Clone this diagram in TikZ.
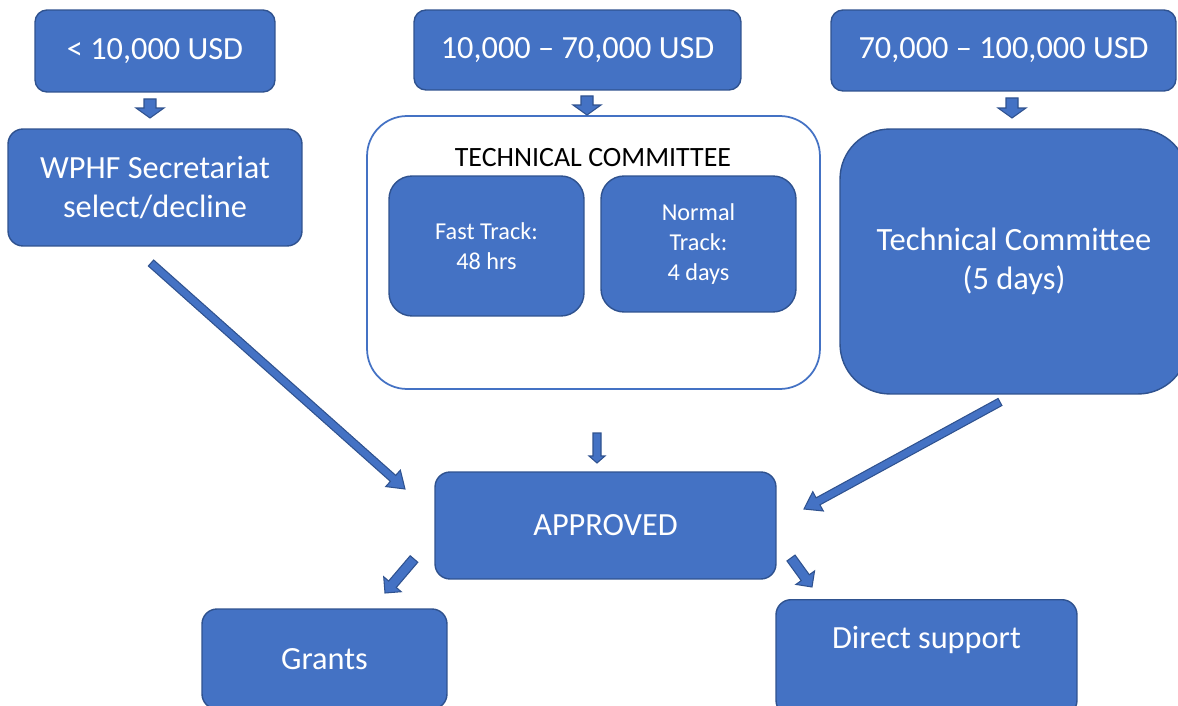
\documentclass[tikz,border=0pt]{standalone}
\usepackage{fontspec}
\setmainfont{Carlito}
\usetikzlibrary{calc}

\definecolor{boxblue}{HTML}{4472C4}
\definecolor{edgeblue}{HTML}{2F528F}

% block arrow: from, to, shaft half width, head half width, head length
\newcommand{\blockarrow}[5]{%
  \coordinate (headbase) at ($(#2)!#5!(#1)$);
  \filldraw[arrowshape] ($(#1)!#3!90:(#2)$) -- ($(headbase)!#3!90:(#2)$)
    -- ($(headbase)!#4!90:(#2)$) -- (#2) -- ($(headbase)!#4!-90:(#2)$)
    -- ($(headbase)!#3!-90:(#2)$) -- ($(#1)!#3!-90:(#2)$) -- cycle;
}

\begin{document}
\begin{tikzpicture}[x=0.02cm, y=-0.02cm,
    box/.style={draw=edgeblue, fill=boxblue, line width=0.8pt, text=white, align=center,
      inner sep=0pt, font=\fontsize{18.4}{22.2}\selectfont},
    small/.style={font=\fontsize{13.8}{17}\selectfont},
    arrowshape/.style={draw=edgeblue, fill=boxblue, line width=0.6pt, line join=miter}]
    \useasboundingbox (0,0) rectangle (1178,706);

    % Amount tiers
    \node[box, rounded corners=0.24cm, minimum width=4.8cm, minimum height=1.64cm] (low) at (155,51) {< 10,000 USD};
    \node[box, rounded corners=0.24cm, minimum width=6.54cm, minimum height=1.6cm] (mid) at (577.5,50) {10,000 -- 70,000 USD};
    \node[box, rounded corners=0.24cm, minimum width=6.9cm, minimum height=1.62cm] (high) at (1003.5,50.5) {70,000 -- 100,000 USD};

    % Review bodies
    \node[box, rounded corners=0.3cm, minimum width=5.88cm, minimum height=2.34cm] (secr) at (155,187.5) {WPHF Secretariat\\select/decline};
    \node[draw=boxblue, fill=white, line width=1pt, rounded corners=0.8cm, minimum width=9.06cm, minimum height=5.46cm] (tcbox) at (593.5,252.5) {};
    \node[font=\fontsize{15.9}{18}\selectfont] (tctitle) at (593,158) {TECHNICAL COMMITTEE};
    \node[box, small, rounded corners=0.46cm, minimum width=3.9cm, minimum height=2.8cm] (fast) at (486.5,246) {Fast Track:\\48 hrs};
    \node[box, small, rounded corners=0.46cm, minimum width=3.9cm, minimum height=2.72cm] (normal) at (698.5,244) {Normal\\Track:\\4 days};
    \node[box, font=\fontsize{18.5}{22.2}\selectfont, rounded corners=1cm, minimum width=6.96cm, minimum height=5.3cm] (tcfive) at (1014,261.5) {Technical Committee\\(5 days)};

    % Outcome
    \node[box, rounded corners=0.3cm, minimum width=6.82cm, minimum height=2.14cm] (appr) at (605.5,525.5) {APPROVED};
    \node[box, rounded corners=0.3cm, minimum width=4.9cm, minimum height=2cm] (grants) at (324.5,659) {Grants};
    \node[box, rounded corners=0.3cm, anchor=north, text height=27.9pt, text depth=38pt, minimum width=6.02cm] (direct) at (926.5,599) {Direct support};

    % Arrow ends
    \coordinate (lowfrom) at (150,99);   \coordinate (lowto) at (150,118);
    \coordinate (midfrom) at (587,96);   \coordinate (midto) at (587,115);
    \coordinate (highfrom) at (1012,98); \coordinate (highto) at (1012,118);
    \coordinate (secrfrom) at (151,263); \coordinate (secrto) at (405,489);
    \coordinate (tcfrom) at (1000,402);  \coordinate (tcto) at (804,509);
    \coordinate (boxfrom) at (597,433);  \coordinate (boxto) at (597,463);
    \coordinate (grfrom) at (414,559);   \coordinate (grto) at (385,593);
    \coordinate (dsfrom) at (791,558);   \coordinate (dsto) at (812,587);

    % Block arrows
    \blockarrow{lowfrom}{lowto}{0.12cm}{0.28cm}{0.2cm}
    \blockarrow{midfrom}{midto}{0.12cm}{0.28cm}{0.2cm}
    \blockarrow{highfrom}{highto}{0.12cm}{0.28cm}{0.2cm}
    \blockarrow{secrfrom}{secrto}{0.08cm}{0.22cm}{0.32cm}
    \blockarrow{tcfrom}{tcto}{0.08cm}{0.22cm}{0.32cm}
    \blockarrow{boxfrom}{boxto}{0.08cm}{0.16cm}{0.14cm}
    \blockarrow{grfrom}{grto}{0.1cm}{0.23cm}{0.23cm}
    \blockarrow{dsfrom}{dsto}{0.1cm}{0.23cm}{0.23cm}
\end{tikzpicture}
\end{document}
